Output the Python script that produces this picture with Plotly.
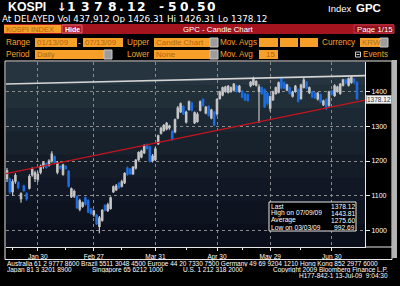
import plotly.graph_objects as go
import pandas as pd

# ---------------- data ----------------
HOLIDAYS = ['2009-01-26', '2009-01-27', '2009-05-01', '2009-05-05']
dates = [d.strftime('%Y-%m-%d') for d in pd.bdate_range('2009-01-13', '2009-07-13')
         if d.strftime('%Y-%m-%d') not in HOLIDAYS]

opens = [1150, 1148, 1112, 1142, 1138, 1092, 1128, 1106, 1122, 1160,
         1150, 1148, 1168, 1185, 1192, 1188, 1200, 1212, 1168, 1184,
         1162, 1184, 1170, 1098, 1100, 1098, 1062, 1070, 1094, 1086,
         1062, 1046, 1044, 1012, 1030, 1072, 1058, 1064, 1112, 1118,
         1136, 1128, 1138, 1180, 1176, 1164, 1180, 1204, 1212, 1224,
         1246, 1240, 1202, 1204, 1250, 1280, 1288, 1292, 1296, 1284,
         1284, 1324, 1342, 1356, 1312, 1348, 1366, 1310, 1314, 1346,
         1376, 1338, 1356, 1324, 1340, 1336, 1380, 1390, 1400, 1398,
         1400, 1404, 1414, 1400, 1400, 1392, 1390, 1416, 1420, 1418,
         1400, 1410, 1404, 1394, 1352, 1376, 1394, 1398, 1438, 1424,
         1404, 1410, 1386, 1400, 1404, 1380, 1412, 1426, 1396, 1398,
         1394, 1378, 1390, 1362, 1376, 1360, 1400, 1388, 1400, 1394,
         1418, 1432, 1418, 1426, 1434, 1426.31]
highs = [1180, 1152, 1148, 1165, 1142, 1110, 1132, 1110, 1162, 1182,
         1172, 1170, 1190, 1200, 1196, 1205, 1228, 1216, 1200, 1188,
         1192, 1188, 1174, 1124, 1118, 1102, 1092, 1084, 1098, 1090,
         1066, 1060, 1048, 1042, 1062, 1076, 1080, 1098, 1130, 1134,
         1140, 1146, 1168, 1184, 1180, 1186, 1206, 1228, 1232, 1248,
         1250, 1244, 1220, 1240, 1276, 1298, 1306, 1312, 1304, 1288,
         1322, 1358, 1368, 1360, 1344, 1374, 1370, 1342, 1340, 1374,
         1380, 1358, 1360, 1350, 1344, 1380, 1402, 1414, 1416, 1418,
         1414, 1424, 1418, 1418, 1404, 1396, 1394, 1430, 1442, 1432,
         1420, 1414, 1408, 1398, 1388, 1402, 1414, 1428, 1442, 1428,
         1422, 1414, 1402, 1418, 1408, 1422, 1440, 1430, 1414, 1402,
         1398, 1398, 1394, 1376, 1380, 1402, 1404, 1420, 1416, 1424,
         1436, 1436, 1440, 1443.81, 1438, 1426.31]
lows = [1140, 1105, 1100, 1135, 1118, 1080, 1110, 1086, 1118, 1155,
        1140, 1140, 1162, 1178, 1178, 1184, 1195, 1192, 1162, 1176,
        1158, 1176, 1124, 1094, 1094, 1062, 1056, 1066, 1072, 1050,
        1046, 1040, 1016, 992.69, 1026, 1056, 1054, 1060, 1108, 1114,
        1120, 1124, 1134, 1158, 1160, 1160, 1176, 1200, 1208, 1220,
        1232, 1196, 1196, 1200, 1246, 1276, 1284, 1288, 1290, 1258,
        1280, 1320, 1338, 1332, 1308, 1344, 1342, 1306, 1310, 1342,
        1356, 1334, 1328, 1320, 1300, 1330, 1376, 1386, 1396, 1394,
        1396, 1400, 1396, 1396, 1380, 1372, 1370, 1412, 1416, 1414,
        1310, 1390, 1352, 1360, 1342, 1372, 1390, 1394, 1406, 1406,
        1400, 1390, 1382, 1396, 1368, 1376, 1408, 1406, 1392, 1380,
        1378, 1374, 1366, 1358, 1346, 1356, 1388, 1384, 1396, 1390,
        1414, 1420, 1414, 1422, 1420, 1378.12]
closes = [1172, 1112, 1140, 1158, 1124, 1106, 1116, 1092, 1155, 1176,
          1166, 1162, 1185, 1195, 1182, 1200, 1220, 1196, 1194, 1180,
          1188, 1178, 1128, 1120, 1112, 1066, 1086, 1080, 1076, 1054,
          1050, 1056, 1020, 1036, 1058, 1060, 1074, 1094, 1126, 1128,
          1124, 1140, 1164, 1162, 1164, 1182, 1202, 1224, 1228, 1244,
          1236, 1200, 1214, 1234, 1272, 1294, 1302, 1308, 1300, 1262,
          1318, 1352, 1364, 1336, 1340, 1370, 1346, 1338, 1334, 1370,
          1360, 1354, 1332, 1346, 1304, 1376, 1398, 1410, 1412, 1414,
          1410, 1420, 1400, 1414, 1384, 1376, 1374, 1426, 1436, 1428,
          1412, 1394, 1356, 1366, 1384, 1398, 1410, 1424, 1410, 1410,
          1418, 1394, 1398, 1414, 1372, 1418, 1432, 1410, 1410, 1384,
          1382, 1394, 1370, 1372, 1352, 1398, 1392, 1416, 1412, 1420,
          1432, 1424, 1436, 1440, 1428, 1378.12]

tick_dates = ['2009-01-30', '2009-02-27', '2009-03-31', '2009-04-30', '2009-05-29', '2009-06-30']
tick_text = ['Jan 30', 'Feb 27', 'Mar 31', 'Apr 30', 'May 29', 'Jun 30']
minor_dates = ['2009-01-15', '2009-02-13', '2009-03-13', '2009-04-15', '2009-05-15', '2009-06-15']
y_ticks = [1000, 1100, 1200, 1300, 1400]

# hand-drawn trend lines (position in trading days, index level)
resist_x = [-0.36, 127.86]
resist_y = [1421, 1445]
support_x = [-0.36, 127.86]
support_y = [1164, 1375]

stats_labels = ['Last', 'High on 07/09/09', 'Average', 'Low on 03/03/09']
stats_values = ['1378.12', '1443.81', '1275.60', '992.69']

last_label = '1378.12'

# ---------------- layout helpers ----------------
W, H = 400, 286
PL, PR, PT, PB = 6, 365, 62, 247
FONT = 'Liberation Sans'
ORANGE = '#f6a02a'
BOXTXT = '#b2660c'


def px(x):
    return (x - PL) / (PR - PL)


def py(y):
    return (PB - y) / (PB - PT)


shapes = []
annots = []


def rect(x0, y0, x1, y1, fill=None, line=None, lw=0, layer='above'):
    shapes.append(dict(type='rect', xref='paper', yref='paper',
                       x0=px(x0), x1=px(x1), y0=py(y1), y1=py(y0),
                       fillcolor=fill if fill else 'rgba(0,0,0,0)',
                       line=dict(color=line if line else 'rgba(0,0,0,0)', width=lw),
                       layer=layer))


def hline(x0, x1, y, color, lw=1, layer='above'):
    shapes.append(dict(type='line', xref='paper', yref='paper', x0=px(x0), x1=px(x1),
                       y0=py(y), y1=py(y), line=dict(color=color, width=lw), layer=layer))


def txt(x, y, s, size=8, color='white', anchor='left', bold=False, family=FONT, bg=None, bc=None, h=None):
    d = dict(xref='paper', yref='paper', x=px(x), y=py(y), text=('<b>%s</b>' % s) if bold else s,
             showarrow=False, xanchor=anchor, yanchor='middle',
             font=dict(size=size, color=color, family=family), borderpad=0, borderwidth=0)
    if bg:
        d['bgcolor'] = bg
    if bc:
        d['bordercolor'] = bc
        d['borderwidth'] = 1
    if h:
        d['height'] = h
        d['valign'] = 'middle'
    annots.append(d)


# plot background bands (dark gradient)
band_cols = ['#25343e', '#212f39', '#1c2833', '#18222d', '#141c28', '#111724', '#0e1320', '#0b0f1b']
n = len(band_cols)
for i, c in enumerate(band_cols):
    y0 = PT + (PB - PT) * i / n
    y1 = PT + (PB - PT) * (i + 1) / n
    rect(PL, y0, PR, y1 + 0.5, fill=c, layer='below')

# ---------------- header ----------------
TF = 'DejaVu Sans'
TY = 7.4
txt(8, TY, 'KOSPI', size=12.3, bold=True, h=10)
txt(61.5, TY, '↓', size=11.5, bold=True, anchor='center', family=TF, h=10)
for ch, cx in zip('1378.12', [71.5, 85, 98, 112, 121.5, 131.5, 141.5]):
    txt(cx, TY, ch, size=12.3, bold=True, anchor='center', family=TF, h=10)
for ch, cx in zip('-50.50', [161, 172.5, 184, 192.5, 201, 211]):
    txt(cx, TY, ch, size=12.3, bold=True, anchor='center', family=TF, h=10)
txt(328, 8, 'Index', size=9.5, h=9)
txt(356, 8, 'GPC', size=11.5, bold=True, h=10)
txt(2, 19.4, 'At DELAYED Vol 437,912 Op 1426.31 Hi 1426.31 Lo 1378.12', size=8.8, family='DejaVu Sans', h=8)

# red title bar
rect(4, 24, 394, 34, fill='#a3141f')
rect(4, 25, 61, 33, fill=ORANGE)
txt(6, 29, 'KOSPI INDEX', size=7.5, color=BOXTXT, h=8)
rect(62, 25, 82, 33, fill='#b51a29', line='#d86470', lw=1)
txt(72, 29, 'Hide', size=7, bold=True, anchor='center', h=8)
txt(218, 29, 'GPC - Candle Chart', size=7.8, anchor='center', h=8)
rect(354, 25, 394, 33, fill='#8f0f1a', line='#c03848', lw=1)
txt(357, 29, 'Page 1/15', size=7.8, h=8)

# control rows
r1, r2 = 42.5, 54.5


def box(x0, x1, yc, label='', btn=False, align='left', tcol=BOXTXT):
    rect(x0, yc - 4.5, x1, yc + 4.5, fill=ORANGE)
    if btn:
        rect(x1 - 8, yc - 4.5, x1, yc + 4.5, fill='#9c9c9c', line='#c8c8c8', lw=1)
    if label:
        if align == 'left':
            txt(x0 + 2, yc, label, size=8, color=tcol, h=9)
        else:
            txt(x1 - 3, yc, label, size=8, color=tcol, anchor='right', h=9)


txt(6, r1, 'Range', size=8.2, color=ORANGE, h=9)
box(35, 77, r1, '01/13/09')
txt(79.5, r1, '-', size=8, color='white', anchor='center', h=9)
box(83, 123, r1, '07/13/09')
txt(127, r1, 'Upper', size=8.2, color=ORANGE, h=9)
box(154, 218, r1, 'Candle Chart', btn=True)
txt(220, r1, 'Mov. Avgs', size=8.2, color=ORANGE, h=9)
box(259, 278, r1)
box(280, 298, r1)
box(300, 318, r1)
txt(322, r1, 'Currency', size=8.2, color=ORANGE, h=9)
box(360, 388, r1, 'KRW', btn=True, tcol='#a8702e')

txt(6, r2, 'Period', size=8.2, color=ORANGE, h=9)
box(35, 112, r2, 'Daily', btn=True)
txt(127, r2, 'Lower', size=8.2, color=ORANGE, h=9)
box(154, 218, r2, 'None', btn=True)
txt(220, r2, 'Mov. Avg', size=8.2, color=ORANGE, h=9)
box(259, 278, r2, '15', align='right')
rect(355.5, r2 - 2.5, 360.5, r2 + 2.5, line='#d0d0d0', lw=1)
hline(356.5, 359.5, r2, '#d0d0d0')
txt(363, r2, 'Events', size=8.2, color=ORANGE, h=9)

# ---------------- chart frame ----------------
rect(5, 61, 392, 259.5, line='#e8e8e8', lw=1)
hline(PR, 392, PB, '#e8e8e8')
rect(392, 60, 397, 258, fill='#b4b4b4')

# stats box
rect(269, 202, 356, 231, fill='#000000', line='#e8e8e8', lw=1)
for i, (lab, val) in enumerate(zip(stats_labels, stats_values)):
    yy = 206 + i * 7.0
    txt(271, yy, lab, size=6.7, h=6.5)
    txt(355, yy, val, size=6.7, anchor='right', h=6.5)

# last price label
txt(366, 99, last_label, size=6.5, color='#303030', bg='#f0f0f0', bc='#a0a0a0', h=7)

# footer
FS = 6.5
txt(7, 264, 'Australia 61 2 9777 8600 Brazil 5511 3048 4500 Europe 44 20 7330 7500 Germany 49 69 9204 1210 Hong Kong 852 2977 6000', size=FS, h=5.5)
txt(7, 269.8, 'Japan 81 3 3201 8900', size=FS, h=5.5)
txt(92, 269.8, 'Singapore 65 6212 1000', size=FS, h=5.5)
txt(183, 269.8, 'U.S. 1 212 318 2000', size=FS, h=5.5)
txt(388, 269.8, 'Copyright 2009 Bloomberg Finance L.P.', size=FS, anchor='right', h=5.5)
txt(388, 275.6, 'H177-842-1 13-Jul-09  9:04:30', size=FS, anchor='right', h=5.5)

# ---------------- figure ----------------
x_idx = list(range(len(dates)))

fig = go.Figure()
fig.add_trace(go.Candlestick(
    x=x_idx, open=opens, high=highs, low=lows, close=closes,
    increasing=dict(line=dict(color='#c4c4c4', width=1.2), fillcolor='#e4e4e4'),
    decreasing=dict(line=dict(color='#1a6be0', width=1.2), fillcolor='#2a86ff'),
    whiskerwidth=0, showlegend=False, hoverinfo='skip'))
fig.add_trace(go.Scatter(x=resist_x, y=resist_y, mode='lines',
                         line=dict(color='#d4d4d4', width=1.6), showlegend=False, hoverinfo='skip'))
fig.add_trace(go.Scatter(x=support_x, y=support_y, mode='lines',
                         line=dict(color='#c8141e', width=1.2), showlegend=False, hoverinfo='skip'))

fig.update_layout(
    width=W, height=H,
    margin=dict(l=PL, r=W - PR, t=PT, b=H - PB, pad=0),
    paper_bgcolor='#000000', plot_bgcolor='#0b0f1b',
    showlegend=False,
    shapes=shapes, annotations=annots,
    xaxis=dict(
        range=[-0.36, 127.86], rangeslider=dict(visible=False),
        tickmode='array', tickvals=[dates.index(d) for d in tick_dates], ticktext=tick_text,
        ticks='outside', ticklen=3, tickcolor='#e8e8e8', tickwidth=1,
        tickfont=dict(size=6.5, color='white', family=FONT),
        showgrid=True, gridcolor='#8a8a8a', griddash='dot', gridwidth=1,
        showline=True, linecolor='#e8e8e8', linewidth=1, zeroline=False,
        minor=dict(tickmode='array', tickvals=[dates.index(d) for d in minor_dates],
                   ticks='outside', ticklen=2, tickcolor='#e8e8e8', showgrid=False),
    ),
    yaxis=dict(
        side='right', range=[953.2, 1484.2],
        tickmode='array', tickvals=y_ticks,
        ticks='outside', ticklen=4, tickcolor='#e8e8e8', tickwidth=1,
        tickfont=dict(size=7, color='white', family=FONT),
        showgrid=True, gridcolor='#8a8a8a', griddash='dot', gridwidth=1,
        showline=True, linecolor='#e8e8e8', linewidth=1, zeroline=False,
    ),
)

fig.write_html('out.html')
